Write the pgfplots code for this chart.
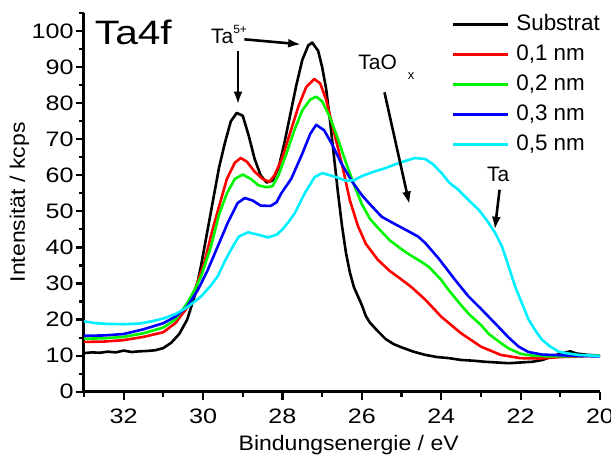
\documentclass[border=0pt]{standalone}
\usepackage{fontspec}
\setmainfont{Liberation Sans}
\newfontfamily\widefont[FakeStretch=1.2]{Liberation Sans}
\newfontfamily\lblfont[FakeStretch=1.1]{Liberation Sans}
\usepackage{pgfplots}
\pgfplotsset{compat=1.18}
\usetikzlibrary{arrows.meta}
\definecolor{cgreen}{RGB}{0,245,0}
\definecolor{ccyan}{RGB}{0,240,255}
\begin{document}
\begin{tikzpicture}
\begin{axis}[
 scale only axis, width=516bp, height=378.7bp,
 xmin=20, xmax=33, x dir=reverse, ymin=0, ymax=105,
 axis x line=bottom, axis y line=left,
 axis line style={-, line width=3bp},
 xtick={20,22,...,32}, minor xtick={21,23,...,33},
 ytick={0,10,...,100}, minor ytick={5,15,...,105},
 tick align=outside, major tick length=8bp, minor tick length=5bp,
 every tick/.style={black, line width=2.2bp},
 tick label style={font=\widefont\fontsize{21}{21}\selectfont},
 yticklabel style={xshift=1bp},
 xticklabel style={yshift=-6bp},
 /pgf/number format/assume math mode=true,
 xlabel={Bindungsenergie / eV}, ylabel={Intensität / kcps},
 label style={font=\lblfont\fontsize{21}{21}\selectfont},
 xlabel style={at={(axis description cs:0.513,-0.154)}, anchor=base},
 ylabel style={at={(axis description cs:-0.125,0.5)}, anchor=center},
 clip=false,
 every axis plot/.append style={line width=2.6bp, line join=round},
 legend cell align=left,
 legend image code/.code={\draw (0bp,0bp) -- (55bp,0bp);},
 legend style={draw=none, fill=none, at={(axis cs:23.74,105)}, anchor=north west,
   font=\fontsize{22.5}{22.5}\selectfont, inner sep=0pt,
   nodes={inner sep=1bp, text height=16bp, text depth=5bp},
   row sep=7bp, column sep=6bp},
]
\coordinate (SW) at (axis description cs:0,0);
\addplot[black] coordinates {
(33,10.7)(32.8,10.9)(32.6,10.8)(32.4,11.1)(32.2,10.9)(32,11.4)(31.8,11.0)(31.6,11.2)(31.4,11.3)(31.2,11.5)(31.0,12.1)(30.8,13.6)(30.6,16.0)(30.4,20.0)(30.2,27.0)(30.05,35.0)(29.9,44.0)(29.75,53.0)(29.6,62.0)(29.45,69.0)(29.3,75.0)(29.15,77.3)(29.0,76.5)(28.85,71.0)(28.7,64.5)(28.55,60.0)(28.4,58.0)(28.25,58.5)(28.1,62.0)(27.95,69.0)(27.8,77.0)(27.65,85.0)(27.5,92.0)(27.35,96.0)(27.25,96.8)(27.1,94.5)(27.0,90.0)(26.9,84.0)(26.8,75.0)(26.7,65.0)(26.6,55.0)(26.5,46.0)(26.4,38.5)(26.3,33.0)(26.2,29.0)(26.1,26.5)(26.0,24.0)(25.9,21.0)(25.8,19.2)(25.6,16.8)(25.4,14.6)(25.2,13.2)(25.0,12.3)(24.7,11.1)(24.4,10.2)(24.1,9.6)(23.8,9.3)(23.5,8.8)(23.2,8.6)(22.9,8.3)(22.6,8.1)(22.3,7.9)(22.0,8.1)(21.7,8.3)(21.45,8.8)(21.25,9.6)(21.1,10.2)(20.9,10.8)(20.75,11.2)(20.6,10.6)(20.3,10.2)(20,10.0)
};
\addlegendentry{Substrat}
\addplot[red] coordinates {
(33,13.8)(32.5,13.9)(32,14.3)(31.5,15.2)(31,16.5)(30.7,19.0)(30.4,23.3)(30.2,28.5)(29.97,35.7)(29.76,45.0)(29.55,53.2)(29.4,59.0)(29.2,63.5)(29.05,64.8)(28.9,63.8)(28.7,61.0)(28.5,59.0)(28.33,58.2)(28.2,60.0)(28.0,65.0)(27.8,72.0)(27.6,79.0)(27.4,84.5)(27.2,86.7)(27.05,85.5)(26.9,81.0)(26.7,72.0)(26.5,63.0)(26.3,53.0)(26.1,46.0)(25.9,41.0)(25.6,36.6)(25.3,33.5)(25.05,31.5)(24.75,29.0)(24.4,25.5)(24.0,20.8)(23.5,16.2)(23.0,12.5)(22.5,10.2)(22.0,9.3)(21.5,9.2)(21.0,9.6)(20.5,9.8)(20,10.0)
};
\addlegendentry{0,1 nm}
\addplot[cgreen] coordinates {
(33,14.7)(32.5,14.8)(32,15.2)(31.5,16.2)(31,17.8)(30.7,20.0)(30.4,24.5)(30.2,28.5)(30.05,32.0)(29.8,40.3)(29.6,49.0)(29.4,55.0)(29.2,59.0)(29.0,60.2)(28.8,59.0)(28.6,57.2)(28.4,56.7)(28.25,57.0)(28.1,60.0)(27.9,66.0)(27.7,72.5)(27.5,78.0)(27.3,81.0)(27.15,81.8)(27.0,80.5)(26.8,76.0)(26.6,70.0)(26.4,63.5)(26.2,57.5)(26.0,52.0)(25.8,48.0)(25.6,45.5)(25.3,42.0)(25.0,39.5)(24.8,38.0)(24.5,36.0)(24.3,34.5)(24.0,31.0)(23.8,28.0)(23.5,24.0)(23.3,21.5)(23.0,18.5)(22.8,16.0)(22.5,13.5)(22.3,12.0)(22.0,10.5)(21.7,10.0)(21.3,9.8)(21.0,9.8)(20.5,9.9)(20,10.0)
};
\addlegendentry{0,2 nm}
\addplot[blue] coordinates {
(33,15.5)(32.5,15.6)(32,16.0)(31.5,17.3)(31,19.0)(30.7,20.8)(30.4,23.6)(30.13,28.2)(29.88,33.8)(29.63,40.3)(29.38,46.8)(29.13,52.3)(28.95,53.7)(28.75,53.0)(28.55,51.6)(28.3,51.5)(28.15,52.5)(28.03,55.0)(27.78,59.0)(27.5,66.0)(27.3,71.5)(27.15,74.0)(26.95,72.5)(26.77,69.0)(26.52,63.4)(26.26,58.5)(26.0,54.5)(25.84,52.5)(25.5,48.5)(25.17,46.5)(24.83,44.5)(24.58,43.0)(24.4,41.2)(24.07,37.0)(23.65,31.0)(23.32,26.5)(23.0,23.0)(22.56,18.0)(22.3,15.0)(22.05,12.5)(21.8,11.0)(21.46,10.3)(21.0,10.1)(20.5,9.9)(20,9.8)
};
\addlegendentry{0,3 nm}
\addplot[ccyan] coordinates {
(33,19.5)(32.7,19.0)(32.4,18.8)(32,18.7)(31.6,18.9)(31.3,19.5)(31,20.3)(30.7,21.5)(30.4,23.4)(30.05,26.4)(29.8,29.5)(29.63,32.0)(29.46,36.0)(29.29,39.5)(29.1,43.0)(28.87,44.2)(28.6,43.5)(28.37,42.8)(28.15,43.5)(28.0,45.0)(27.85,47.0)(27.69,49.5)(27.44,55.0)(27.19,59.5)(27.0,60.6)(26.8,60.0)(26.6,59.3)(26.4,58.5)(26.2,58.6)(26.0,59.8)(25.67,61.1)(25.4,62.0)(25.17,63.0)(24.9,64.0)(24.66,64.8)(24.4,64.5)(24.2,63.0)(23.99,60.6)(23.8,58.0)(23.57,56.0)(23.3,53.0)(23.06,50.5)(22.85,47.5)(22.64,44.0)(22.47,40.3)(22.3,34.7)(22.14,29.2)(21.97,24.6)(21.8,20.0)(21.6,16.5)(21.46,14.4)(21.25,12.5)(21.04,11.1)(20.8,10.6)(20.54,10.2)(20.2,10.0)(20,9.9)
};
\addlegendentry{0,5 nm}
% annotations
\node[anchor=base west, inner sep=0pt, font=\widefont\fontsize{34}{34}\selectfont] at (axis cs:32.73,96.3) {Ta4f};
\node[anchor=base west, inner sep=0pt, font=\fontsize{21}{21}\selectfont] at (axis cs:29.8,96.6) {Ta\raisebox{10bp}{\fontsize{12}{12}\selectfont 5+}};
\node[anchor=base west, inner sep=0pt, font=\fontsize{21}{21}\selectfont] at (axis cs:26.09,89.4) {TaO\hspace{11bp}\raisebox{-10bp}{\fontsize{13}{13}\selectfont x}};
\node[anchor=base west, inner sep=0pt, font=\fontsize{21}{21}\selectfont] at (axis cs:22.85,58.3) {Ta};
\draw[line width=2.6bp, -{Latex[length=13bp,width=9bp]}] (axis cs:29.12,94.4) -- (axis cs:29.12,79.6);
\draw[line width=2.6bp, -{Latex[length=13bp,width=9bp]}] (axis cs:28.96,97.7) -- (axis cs:27.53,96.3);
\draw[line width=2.6bp, -{Latex[length=13bp,width=9bp]}] (axis cs:25.43,83) -- (axis cs:24.8,51.9);
\draw[line width=2.6bp, -{Latex[length=13bp,width=9bp]}] (axis cs:22.53,56) -- (axis cs:22.65,44.9);
\end{axis}
\pgfresetboundingbox
\useasboundingbox ([shift={(-84bp,-65.3bp)}]SW) rectangle ([shift={(527bp,391.7bp)}]SW);
\end{tikzpicture}
\end{document}
